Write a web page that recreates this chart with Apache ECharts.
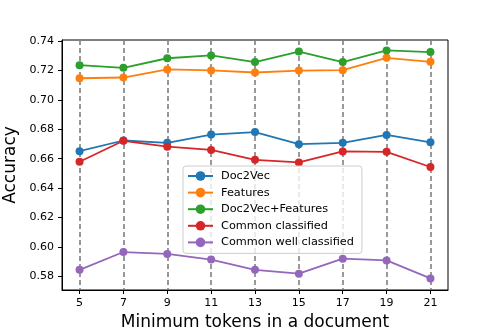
<!DOCTYPE html>
<html>
<head>
<meta charset="utf-8">
<script src="https://cdn.jsdelivr.net/npm/echarts@6/dist/echarts.min.js"></script>
<style>html,body{margin:0;padding:0;background:#fff}#c{width:498px;height:332px}</style>
</head>
<body>
<div id="c"></div>
<script>
const xTicks = [5, 7, 9, 11, 13, 15, 17, 19, 21];
const yTicks = [0.58, 0.60, 0.62, 0.64, 0.66, 0.68, 0.70, 0.72, 0.74];
const seriesNames = ['Doc2Vec', 'Features', 'Doc2Vec+Features', 'Common classified', 'Common well classified'];
const doc2vec = [0.6651, 0.6724, 0.6708, 0.6764, 0.6781, 0.6699, 0.6708, 0.6762, 0.6712];
const features = [0.7147, 0.7152, 0.7207, 0.7200, 0.7186, 0.7199, 0.7202, 0.7286, 0.7259];
const doc2vecFeatures = [0.7236, 0.7218, 0.7283, 0.7302, 0.7257, 0.7328, 0.7257, 0.7336, 0.7325];
const commonClassified = [0.6580, 0.6722, 0.6682, 0.6660, 0.6593, 0.6575, 0.6650, 0.6647, 0.6544];
const commonWell = [0.5845, 0.5966, 0.5953, 0.5915, 0.5845, 0.5819, 0.5921, 0.5909, 0.5787];
const colors = ['#1f77b4', '#ff7f0e', '#2ca02c', '#d62728', '#9467bd'];
const allSeries = [doc2vec, features, doc2vecFeatures, commonClassified, commonWell];

const font = 'DejaVu Sans';
const chart = echarts.init(document.getElementById('c'), null, {renderer: 'canvas'});
chart.setOption({
  animation: false,
  color: colors,
  grid: {left: 62, right: 50, top: 40, bottom: 42, show: true, borderColor: '#000', borderWidth: 1,
    backgroundColor: 'transparent', containLabel: false, outerBoundsMode: 'none'},
  legend: {
    orient: 'vertical', left: 183, top: 166,
    data: seriesNames,
    itemWidth: 25, itemHeight: 12, itemGap: 4.6,
    padding: [4, 8, 5, 4],
    borderColor: '#cccccc', borderWidth: 1, borderRadius: 3,
    backgroundColor: 'rgba(255,255,255,0.8)',
    textStyle: {fontFamily: font, fontSize: 11.3, color: '#000', lineHeight: 12, padding: [0, 0, 0, 3]}
  },
  xAxis: {
    type: 'value', min: 4.2, max: 21.8,
    name: 'Minimum tokens in a document', nameLocation: 'middle', nameGap: 24,
    nameTextStyle: {fontFamily: font, fontSize: 17, color: '#000'},
    axisLine: {show: true, onZero: false, lineStyle: {color: '#000', width: 1}},
    axisTick: {show: true, length: 4, customValues: xTicks, lineStyle: {color: '#000'}},
    axisLabel: {customValues: xTicks, fontFamily: font, fontSize: 11, color: '#000', margin: 8},
    splitLine: {show: true, lineStyle: {color: '#808080', width: 1.6, type: [5, 3]}}
  },
  yAxis: {
    type: 'value', min: 0.5708, max: 0.7407,
    name: 'Accuracy', nameLocation: 'middle', nameGap: 37,
    nameTextStyle: {fontFamily: font, fontSize: 17, color: '#000'},
    axisLine: {show: true, onZero: false, lineStyle: {color: '#000', width: 1}},
    axisTick: {show: true, length: 4, customValues: yTicks, lineStyle: {color: '#000'}},
    axisLabel: {customValues: yTicks, fontFamily: font, fontSize: 11, color: '#000', margin: 8,
      formatter: v => v.toFixed(2)},
    splitLine: {show: false}
  },
  series: allSeries.map((vals, i) => ({
    name: seriesNames[i], type: 'line',
    data: vals.map((v, j) => [xTicks[j], v]),
    symbol: 'circle', symbolSize: 8,
    lineStyle: {width: 1.8, color: colors[i]},
    itemStyle: {color: colors[i]},
    z: 3
  }))
});
</script>
</body>
</html>
